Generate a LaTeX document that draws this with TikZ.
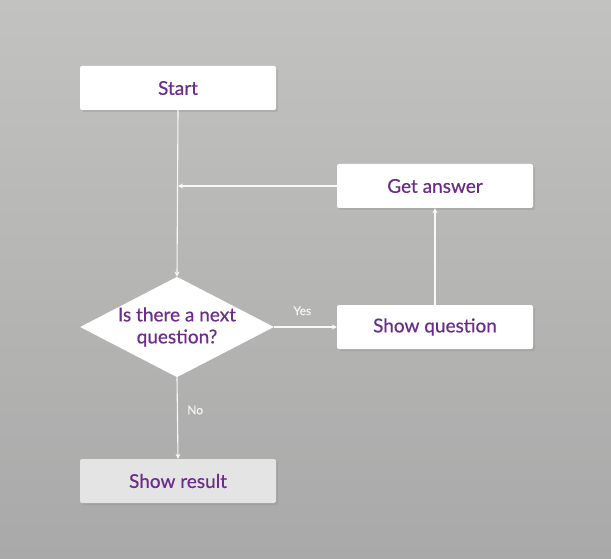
\documentclass[tikz,border=0pt]{standalone}
\usepackage{fontspec}
\setmainfont{Lato}
\newfontfamily\medfont[FakeBold=0.5]{Lato}
\usetikzlibrary{shapes.geometric,arrows.meta,shadows}
\definecolor{bgtop}{HTML}{C2C2C0}
\definecolor{bgbot}{HTML}{A9A9A9}
\definecolor{txt}{HTML}{6B2C8C}
\definecolor{resfill}{HTML}{E4E4E4}
\begin{document}
\begin{tikzpicture}[x=1pt,y=-1pt,
  box/.style={draw=none,fill=white,rounded corners=2pt,minimum width=196pt,minimum height=44pt,
    text=txt,font=\medfont\fontsize{19}{22}\selectfont,
    drop shadow={opacity=0.25,shadow xshift=2pt,shadow yshift=-2pt}},
  decision/.style={diamond,fill=white,aspect=1.93,inner sep=0pt,minimum width=193pt,minimum height=100pt,
    text=txt,font=\medfont\fontsize{19}{22}\selectfont,align=center},
  flow/.style={draw=white!95!gray,line width=1.1pt,-{Stealth[length=5pt,width=5pt]}},
  lbl/.style={text=white!92!gray,font=\medfont\fontsize{12}{14}\selectfont}]
\shade[top color=bgtop,bottom color=bgbot] (0,0) rectangle (611,559);
\useasboundingbox (0,0) rectangle (611,559);
\node[box] (start) at (178,88) {Start};
\node[box] (get) at (435,186) {Get answer};
\node[decision] (dec) at (177,327) {Is there a next\\question?};
\node[box] (show) at (435,327) {Show question};
\node[box,fill=resfill] (res) at (178,481) {Show result};
\coordinate (j) at (178,186);
\draw[flow] (start.south) -- (dec.north);
\draw[flow] (get.west) -- (j);
\draw[flow] (dec.east) -- node[lbl,above,pos=0.45,yshift=8pt]{Yes} (show.west);
\draw[flow] (show.north) -- (get.south);
\draw[flow] (dec.south) -- node[lbl,right,pos=0.4,xshift=6pt]{No} (res.north);
\end{tikzpicture}
\end{document}
